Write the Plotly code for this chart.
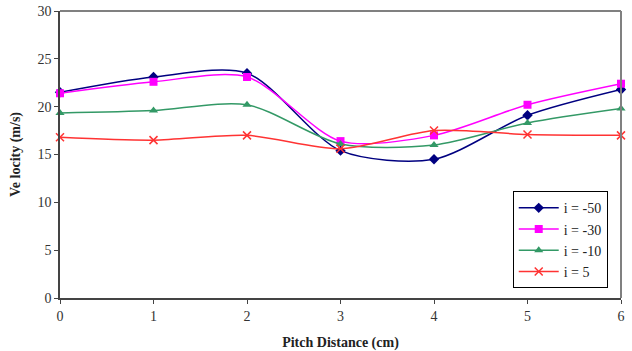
import plotly.graph_objects as go

x_pitch = [0, 1, 2, 3, 4, 5, 6]
v_m50 = [21.5, 23.1, 23.5, 15.4, 14.5, 19.1, 21.8]
v_m30 = [21.4, 22.6, 23.1, 16.4, 17.0, 20.2, 22.4]
v_m10 = [19.35, 19.6, 20.2, 16.1, 16.0, 18.3, 19.8]
v_p5 = [16.8, 16.5, 17.0, 15.6, 17.5, 17.1, 17.0]
names = ["i = -50", "i = -30", "i = -10", "i = 5"]

fig = go.Figure()
styles = [
    (v_m50, "#000080", dict(symbol="diamond", size=8, color="#000080")),
    (v_m30, "#FF00FF", dict(symbol="square", size=8, color="#FF00FF")),
    (v_m10, "#339966", dict(symbol="triangle-up", size=8, color="#339966")),
    (v_p5, "#FF3333", dict(symbol="x-thin", size=8, color="#FF3333",
                            line=dict(width=1.5, color="#FF3333"))),
]
for name, (vals, col, mk) in zip(names, styles):
    fig.add_trace(go.Scatter(
        x=x_pitch, y=vals, name=name, mode="lines+markers",
        line=dict(color=col, width=1.5, shape="spline", smoothing=0.8),
        marker=mk, cliponaxis=False))

fig.update_layout(
    width=632, height=351,
    margin=dict(l=60, r=11, t=11, b=53),
    paper_bgcolor="white", plot_bgcolor="white",
    font=dict(family="Liberation Serif", size=14, color="#333"),
    showlegend=True,
    legend=dict(x=0.807, y=0.034, xanchor="left", yanchor="bottom",
                bordercolor="black", borderwidth=1, bgcolor="white",
                font=dict(family="Liberation Serif", size=14, color="#222"),
                tracegroupgap=0, itemwidth=40),
    xaxis=dict(range=[0, 6], tickvals=x_pitch, showgrid=False, zeroline=False,
               automargin=False,
               showline=True, linecolor="#444", linewidth=1.5,
               ticks="outside", ticklen=4, tickcolor="#444",
               title=dict(text="<b>Pitch Distance (cm)</b>", standoff=18,
                          font=dict(family="Liberation Serif", size=14, color="#222"))),
    yaxis=dict(range=[0, 30], dtick=5, showgrid=False, zeroline=False,
               automargin=False,
               showline=True, linecolor="#444", linewidth=1.5,
               ticks="outside", ticklen=4, tickcolor="#444",
               title=dict(text="<b>Ve locity (m/s)</b>", standoff=14,
                          font=dict(family="Liberation Serif", size=14, color="#222"))),
)
fig.add_shape(type="line", xref="paper", yref="paper", x0=0, x1=1, y0=1, y1=1,
              line=dict(color="#808080", width=2))
fig.add_shape(type="line", xref="paper", yref="paper", x0=1, x1=1, y0=0, y1=1,
              line=dict(color="#808080", width=2))

fig.write_html("out.html")
